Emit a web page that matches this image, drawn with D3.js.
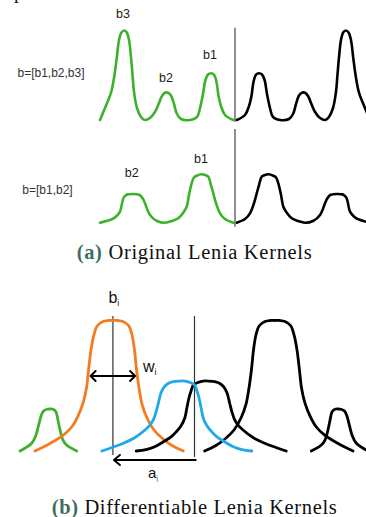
<!DOCTYPE html>
<html><head><meta charset="utf-8">
<script src="https://cdn.jsdelivr.net/npm/d3@7"></script>
<style>html,body{margin:0;padding:0;background:#fff;} svg{display:block;}</style>
</head><body>
<svg id="c" width="366" height="517"></svg>
<script>
// ---------- DATA ----------
// Panel (a): radial kernel profile, r = distance from centre (0..1), k = kernel value
const kernel3 = [[1.000,0],[0.963,0.134],[0.919,0.302],[0.893,0.503],[0.876,0.693],[0.859,0.894],[0.841,0.978],[0.821,1.000],[0.801,0.978],[0.785,0.894],[0.770,0.693],[0.759,0.503],[0.748,0.313],[0.726,0.134],[0.696,0.034],[0.670,0],[0.630,0.022],[0.593,0.089],[0.563,0.190],[0.541,0.268],[0.519,0.305],[0.496,0.305],[0.474,0.274],[0.452,0.179],[0.430,0.067],[0.400,0.011],[0.333,0],[0.281,0.034],[0.259,0.134],[0.237,0.291],[0.219,0.447],[0.200,0.508],[0.178,0.522],[0.156,0.508],[0.137,0.425],[0.122,0.268],[0.104,0.156],[0.074,0.056],[0.013,0]];
const kernel2 = [[1.000,0],[0.913,0.038],[0.881,0.069],[0.852,0.123],[0.827,0.273],[0.807,0.309],[0.790,0.317],[0.753,0.321],[0.726,0.317],[0.704,0.309],[0.681,0.265],[0.667,0.217],[0.630,0.086],[0.578,0.019],[0.519,0],[0.467,0.019],[0.420,0.049],[0.385,0.108],[0.358,0.179],[0.341,0.309],[0.321,0.440],[0.304,0.505],[0.284,0.525],[0.247,0.541],[0.222,0.533],[0.198,0.514],[0.178,0.421],[0.161,0.328],[0.141,0.220],[0.111,0.105],[0.074,0.041],[0.013,0]];
const peakLabels3 = [{t:"b3",r:0.83,k:1.136},{t:"b2",r:0.511,k:0.428},{t:"b1",r:0.185,k:0.682}];
const peakLabels2 = [{t:"b2",r:0.765,k:0.514},{t:"b1",r:0.252,k:0.667}];
const vectorLabels = ["b=[b1,b2,b3]","b=[b1,b2]"];

// Panel (b): bumps, s = signed position (-1..1, 0 = centre line), k = value
const bumpGreen = [[-1.000,0],[-0.933,0.059],[-0.908,0.123],[-0.895,0.186],[-0.879,0.268],[-0.865,0.307],[-0.845,0.320],[-0.828,0.322],[-0.810,0.320],[-0.793,0.299],[-0.782,0.238],[-0.770,0.161],[-0.753,0.084],[-0.732,0.046],[-0.674,0]];
const bumpOrange = [[-0.914,0],[-0.828,0.057],[-0.753,0.119],[-0.703,0.184],[-0.667,0.268],[-0.636,0.375],[-0.618,0.483],[-0.606,0.621],[-0.592,0.774],[-0.575,0.889],[-0.557,0.958],[-0.523,0.992],[-0.494,1.0],[-0.466,1.0],[-0.437,1.0],[-0.408,0.992],[-0.374,0.958],[-0.356,0.889],[-0.342,0.774],[-0.330,0.621],[-0.316,0.483],[-0.299,0.360],[-0.270,0.253],[-0.230,0.161],[-0.178,0.092],[-0.121,0.038],[-0.061,0]];
const bumpBlue = [[-0.530,0],[-0.471,0.027],[-0.406,0.059],[-0.339,0.103],[-0.282,0.161],[-0.253,0.199],[-0.234,0.238],[-0.218,0.299],[-0.205,0.366],[-0.190,0.444],[-0.172,0.490],[-0.149,0.517],[-0.119,0.531],[-0.086,0.536],[-0.052,0.536],[-0.023,0.525],[0.003,0.506],[0.017,0.460],[0.029,0.406],[0.040,0.337],[0.053,0.253],[0.075,0.192],[0.103,0.146],[0.130,0.110],[0.178,0.069],[0.226,0.033],[0.276,0.011],[0.332,0]];
const bPos = -0.466;            // b_i (centre of orange bump)
const wSpan = [-0.600,-0.333];  // w_i width arrow
const wLevel = 0.575;
const aSpan = [0,-0.466];       // a_i shift arrow
const captions = [{tag:"(a)",text:" Original Lenia Kernels"},{tag:"(b)",text:" Differentiable Lenia Kernels"}];

// ---------- STYLE ----------
const GREEN="#3cb22c", ORANGE="#f47b20", BLUE="#1fa8ea", BLACK="#000";
const svg = d3.select("#c");

// stray descender of previous page text (cut off in the reference too)
svg.append("text").attr("x",14).attr("y",-1).attr("font-family","Liberation Serif").attr("font-size",19.5).attr("fill","#111").text("p");

// ---------- PANEL (a) ----------
const xL = d3.scaleLinear().domain([0,1]).range([235,100]);
const xR = d3.scaleLinear().domain([0,1]).range([235,370]);
const y1 = d3.scaleLinear().domain([0,1]).range([120,30.5]);
const y2 = d3.scaleLinear().domain([0,1]).range([222.7,133.2]);
const cr = d3.curveCatmullRom.alpha(0.5);

function drawKernel(data, ys) {
  svg.append("path").datum(data)
    .attr("d", d3.line().x(d=>xL(d[0])).y(d=>ys(d[1])).curve(cr))
    .attr("fill","none").attr("stroke",GREEN).attr("stroke-width",2.6).attr("stroke-linecap","round");
  svg.append("path").datum(data)
    .attr("d", d3.line().x(d=>xR(d[0])).y(d=>ys(d[1])).curve(cr))
    .attr("fill","none").attr("stroke",BLACK).attr("stroke-width",2.6).attr("stroke-linecap","round");
}
drawKernel(kernel3, y1);
drawKernel(kernel2, y2);

svg.append("line").attr("x1",xL(0)).attr("x2",xL(0)).attr("y1",y1(1.031)).attr("y2",y1(-0.022))
  .attr("stroke","#555").attr("stroke-width",1.3);
svg.append("line").attr("x1",xL(0)).attr("x2",xL(0)).attr("y1",y2(1.047)).attr("y2",y2(-0.045))
  .attr("stroke","#555").attr("stroke-width",1.3);

function peakLabels(list, ys) {
  svg.selectAll(null).data(list).enter().append("text")
    .attr("x",d=>xL(d.r)).attr("y",d=>ys(d.k)).attr("text-anchor","middle")
    .attr("font-family","Liberation Sans, Arial").attr("font-size",12.5).attr("fill","#1a1a1a")
    .text(d=>d.t);
}
peakLabels(peakLabels3, y1);
peakLabels(peakLabels2, y2);

svg.append("text").attr("x",51).attr("y",77).attr("text-anchor","middle")
  .attr("font-family","Liberation Sans, Arial").attr("font-size",12).attr("fill","#333").text(vectorLabels[0]);
svg.append("text").attr("x",47.5).attr("y",194).attr("text-anchor","middle")
  .attr("font-family","Liberation Sans, Arial").attr("font-size",12).attr("fill","#333").text(vectorLabels[1]);

function caption(c, x, y, target) {
  const base = 19.5;
  const t = svg.append("text").attr("x",x).attr("y",y)
    .attr("font-family","Liberation Serif, serif").attr("font-size",base).attr("fill","#111");
  t.append("tspan").attr("font-weight","bold").attr("fill","#3e6e5f").text(c.tag);
  t.append("tspan").text(c.text);
  const w = t.node().getComputedTextLength();
  const fs = Math.min(20.5, base * target / w);
  t.attr("font-size", fs);
  const w2 = t.node().getComputedTextLength();
  const n = (c.tag + c.text).length;
  t.style("letter-spacing", Math.max(0,(target - w2)/(n-1)) + "px");
}
caption(captions[0], 76.7, 258.5, 235);

// ---------- PANEL (b) ----------
const xB = d3.scaleLinear().domain([-1,1]).range([20,368]);
const xBm = d3.scaleLinear().domain([-1,1]).range([368,20]);
const yB = d3.scaleLinear().domain([0,1]).range([451,320.5]);

function bump(data, xs, color) {
  svg.append("path").datum(data)
    .attr("d", d3.line().x(d=>xs(d[0])).y(d=>yB(d[1])).curve(cr))
    .attr("fill","none").attr("stroke",color).attr("stroke-width",2.8).attr("stroke-linecap","round");
}
// vertical guide lines
svg.append("line").attr("x1",xB(bPos)).attr("x2",xB(bPos)).attr("y1",yB(1.034)).attr("y2",yB(-0.031))
  .attr("stroke","#333").attr("stroke-width",1.2);
svg.append("line").attr("x1",xB(0)+0.5).attr("x2",xB(0)+0.5).attr("y1",yB(1.034)).attr("y2",yB(-0.045))
  .attr("stroke","#333").attr("stroke-width",1.2);

bump(bumpGreen, xB, GREEN);
bump(bumpOrange, xB, ORANGE);
bump(bumpGreen, xBm, BLACK);
bump(bumpOrange, xBm, BLACK);
bump(bumpBlue, xBm, BLACK);
bump(bumpBlue, xB, BLUE);

// w_i double arrow
const wy = yB(wLevel), wx0 = xB(wSpan[0]), wx1 = xB(wSpan[1]);
svg.append("line").attr("x1",wx0+1).attr("x2",wx1-1).attr("y1",wy).attr("y2",wy).attr("stroke","#000").attr("stroke-width",2);
svg.append("path").attr("d",`M${wx0+6},${wy-5}L${wx0+1},${wy}L${wx0+6},${wy+5}`).attr("fill","none").attr("stroke","#000").attr("stroke-width",2).attr("stroke-linejoin","round").attr("stroke-linecap","round");
svg.append("path").attr("d",`M${wx1-6},${wy-5}L${wx1-1},${wy}L${wx1-6},${wy+5}`).attr("fill","none").attr("stroke","#000").attr("stroke-width",2).attr("stroke-linejoin","round").attr("stroke-linecap","round");

// a_i arrow
const ay = 460, ax0 = xB(aSpan[0]) + 2.5, ax1 = xB(aSpan[1]);
svg.append("line").attr("x1",ax0).attr("x2",ax1+1).attr("y1",ay).attr("y2",ay).attr("stroke","#000").attr("stroke-width",2);
svg.append("path").attr("d",`M${ax1+7},${ay-5}L${ax1+1},${ay}L${ax1+7},${ay+5}`).attr("fill","none").attr("stroke","#000").attr("stroke-width",2).attr("stroke-linejoin","round").attr("stroke-linecap","round");

function subLabel(x, y, main, size, subColor) {
  const t = svg.append("text").attr("x",x).attr("y",y).attr("font-family","Liberation Sans, Arial").attr("font-size",size).attr("fill","#111");
  t.append("tspan").text(main);
  t.append("tspan").attr("font-size",size*0.55).attr("dy",3.5).attr("fill",subColor).text("i");
}
subLabel(xB(bPos)-4.5, 302.5, "b", 16, "#111");
subLabel(143, 371.5, "w", 16, "#111");
subLabel(148, 478, "a", 15, "#4a7fb0");

caption(captions[1], 51.7, 514, 285);
</script>
</body></html>
